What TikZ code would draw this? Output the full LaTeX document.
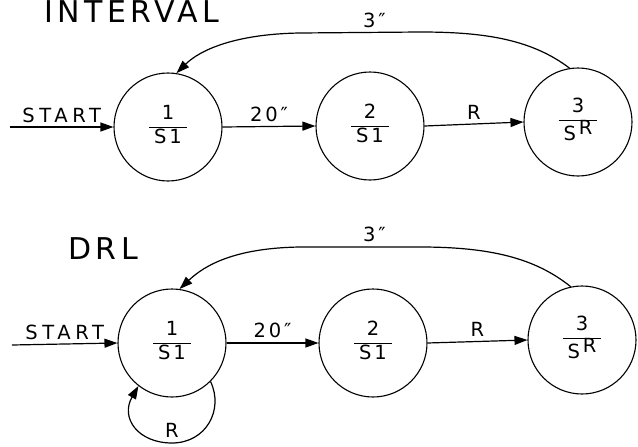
\documentclass[tikz,border=0pt]{standalone}
\usepackage{fontspec}
\setmainfont{DejaVu Sans}[LetterSpace=15]
\usetikzlibrary{arrows.meta}
\newcommand{\stfrac}[2]{{\setlength{\tabcolsep}{5pt}\renewcommand{\arraystretch}{1.15}\begin{tabular}{c}#1\\\hline #2\end{tabular}}}
\newcommand{\sR}{S\hspace{3pt}\raisebox{6pt}{R}}
\begin{document}
\begin{tikzpicture}[x=1pt,y=-1pt,
  state/.style={draw,circle,line width=1.1pt,minimum size=108pt,inner sep=0pt,font=\fontsize{19.5}{20}\selectfont},
  conn/.style={line width=1.2pt,-{Triangle[length=13pt,width=9pt]}},
  lbl/.style={font=\fontsize{19.5}{20}\selectfont},
  ttl/.style={font=\fontsize{30}{30}\selectfont,anchor=north west,inner sep=0pt}]
\useasboundingbox (0,0) rectangle (638,447);
\fill[white] (0,0) rectangle (638,447);

% ---- INTERVAL schedule ----
\node[ttl] (t1) at (44,0) {INTERVAL};
\node[state] (a1) at (168,127) {\stfrac{1}{S1}};
\node[state] (a2) at (370,126) {\stfrac{2}{S1}};
\node[state] (a3) at (578,122) {\stfrac{3}{\sR}};
\coordinate (as) at (10,127);
\draw[conn] (as) -- node[lbl,above=0pt]{\addfontfeatures{LetterSpace=24}START} (a1.west);
\draw[conn] (a1.east) -- node[lbl,above=1pt]{20″} (a2.west);
\draw[conn] (a2.east) -- node[lbl,above=1pt]{R} (a3.west);
\draw[conn] (a3.99) .. controls (530,38) and (480,32) .. (420,32)
  -- node[lbl,above=1pt,pos=0.38]{3″} (300,33)
  .. controls (235,34) and (200,50) .. (a1.81);

% ---- DRL schedule ----
\node[ttl] (t2) at (68,237) {DRL};
\node[state] (b1) at (172,343) {\stfrac{1}{S1}};
\node[state] (b2) at (373,343) {\stfrac{2}{S1}};
\node[state] (b3) at (582,340) {\stfrac{3}{\sR}};
\coordinate (bs) at (12,345);
\draw[conn] (bs) -- node[lbl,above=0pt]{\addfontfeatures{LetterSpace=24}START} (b1.west);
\draw[conn] (b1.east) -- node[lbl,above=1pt]{20″} (b2.west);
\draw[conn] (b2.east) -- node[lbl,above=1pt]{R} (b3.west);
\draw[conn] (b3.102) .. controls (535,258) and (490,247) .. (420,247)
  -- node[lbl,above=1pt,pos=0.38]{3″} (300,247)
  .. controls (235,248) and (205,265) .. (b1.82);
\draw[conn] (b1.-45) .. controls (224,410) and (206,443) .. (172,443)
  node[lbl,above=2pt]{R}
  .. controls (138,443) and (120,418) .. (b1.-128);
\end{tikzpicture}
\end{document}
